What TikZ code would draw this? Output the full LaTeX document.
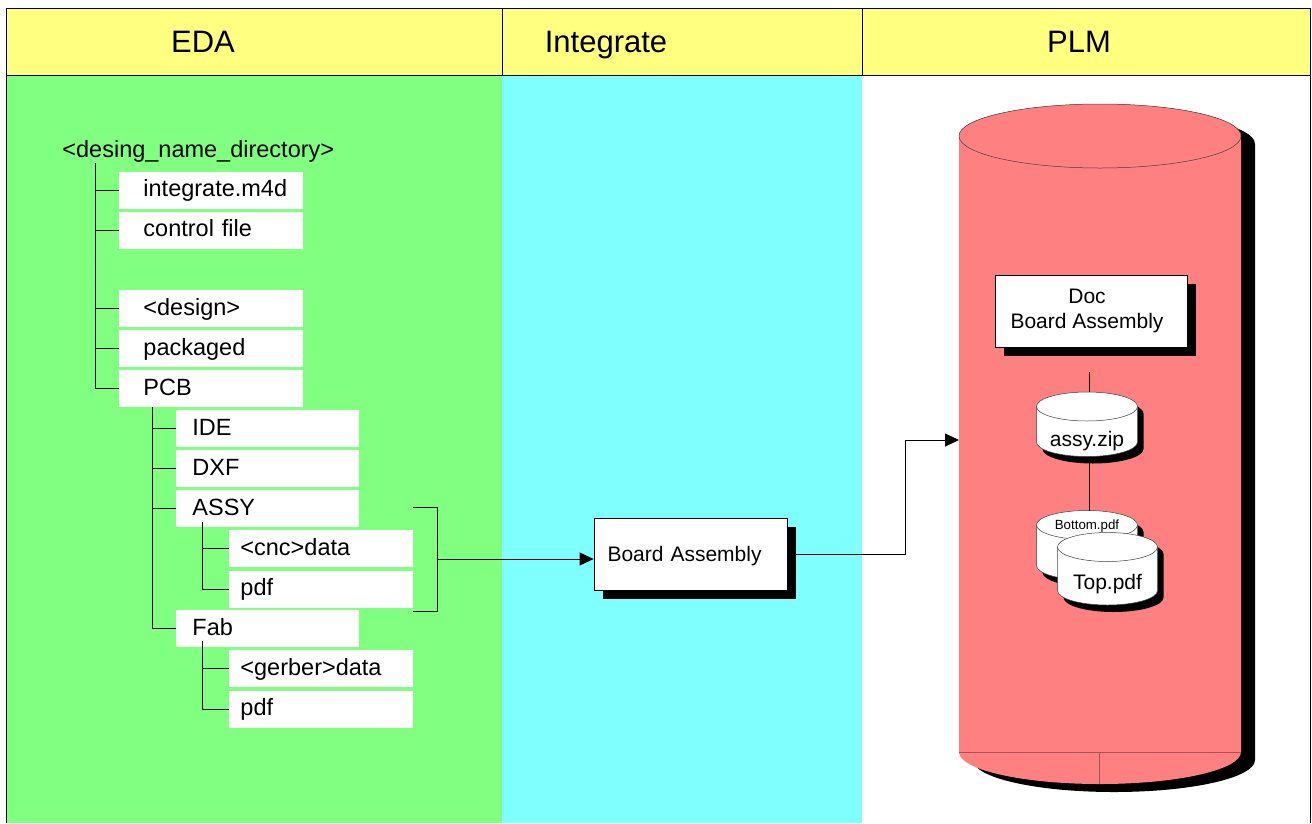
\documentclass[tikz,border=0pt]{standalone}
\usepackage{fontspec}
\setmainfont{Liberation Sans}
\usetikzlibrary{arrows.meta,calc,shadows}
\definecolor{hdr}{HTML}{FFFF80}
\definecolor{edacol}{HTML}{80FF80}
\definecolor{intcol}{HTML}{80FFFF}
\definecolor{plmred}{HTML}{FF8080}
\begin{document}
\begin{tikzpicture}[x=1pt,y=-1pt,
  line width=0.9pt,
  hdrtxt/.style={font=\fontsize{31}{37}\selectfont, anchor=base, inner sep=0},
  treefont/.style={font=\fontsize{23.5}{28}\selectfont},
  filebox/.style={treefont, fill=white, anchor=west, minimum height=37,
    text height=19, text depth=6, inner ysep=6, align=left},
  lvlone/.style={filebox, inner xsep=24, text width=136},
  lvltwo/.style={filebox, inner xsep=16, text width=151},
  lvlthree/.style={filebox, inner xsep=11, text width=162},
  shbox/.style={draw=black, line width=0.8pt, fill=white,
    drop shadow={shadow xshift=9pt, shadow yshift=-9pt, fill=black, opacity=1}},
  lbl/.style={font=\fontsize{21}{25}\selectfont},
  arr/.style={-{Triangle[length=14pt,width=13pt]}},
  cylline/.style={draw=black!75, line width=0.5pt}
]
\useasboundingbox (0,0) rectangle (1312,823);

% backgrounds
\fill[edacol] (6,75) rectangle (502,823);
\fill[intcol] (502,75) rectangle (862,823);
\fill[hdr] (6,8) rectangle (1310,75);
\draw (6,823) -- (6,8) -- (1310,8) -- (1310,823);
\draw (6,75) -- (1310,75);
\draw (502,8) -- (502,75);
\draw (862,8) -- (862,75);

\node[hdrtxt] (heda) at (203,52) {EDA};
\node[hdrtxt] (hint) at (606,52) {Integrate};
\node[hdrtxt] (hplm) at (1079,52) {PLM};

% tree
\node[treefont, anchor=base west, inner sep=0] (root) at (62,157) {<desing\_name\_directory>};

\node[lvlone] (f1) at (119,190) {integrate.m4d};
\node[lvlone] (f2) at (119,230) {control file};
\node[lvlone] (f3) at (119,308.5) {<design>};
\node[lvlone] (f4) at (119,348.5) {packaged};
\node[lvlone] (pcb) at (119,388.5) {PCB};

\node[lvltwo] (ide) at (176,428.5) {IDE};
\node[lvltwo] (dxf) at (176,468.5) {DXF};
\node[lvltwo] (assy) at (176,508.5) {ASSY};
\node[lvltwo] (fab) at (176,628.5) {Fab};

\node[lvlthree] (cnc) at (229,548.5) {<cnc>data};
\node[lvlthree] (apdf) at (229,589) {pdf};
\node[lvlthree] (gerb) at (229,668.5) {<gerber>data};
\node[lvlthree] (fpdf) at (229,709) {pdf};

\coordinate (r1) at (95,163);
\foreach \c in {f1,f2,f3,f4,pcb} \draw (r1) |- (\c.west);
\coordinate (r2) at (152,407);
\foreach \c in {ide,dxf,assy,fab} \draw (r2) |- (\c.west);
\coordinate (r3) at (202,522);
\foreach \c in {cnc,apdf} \draw (r3) |- (\c.west);
\coordinate (r4) at (202,641);
\foreach \c in {gerb,fpdf} \draw (r4) |- (\c.west);

% bracket
\coordinate (bt) at (413,507);
\coordinate (bb) at (413,611);
\coordinate (bm) at (437,559);
\draw (bt) -- (437,507) -- (437,611) -- (bb);

% integrate box
\node[shbox, lbl, minimum width=193, minimum height=72, inner xsep=13.5,
  text width=166, align=left, text height=15, text depth=0] (ba) at (690.5,554) {Board Assembly};
\draw[arr] (bm) -- (bm -| ba.west);

% PLM cylinder
\fill[black] (973,144) -- (973,760) arc[start angle=180,end angle=0,x radius=141,y radius=32]
  -- (1255,144) arc[start angle=0,end angle=-180,x radius=141,y radius=32] -- cycle;
\fill[plmred] (959,136) -- (959,752) arc[start angle=180,end angle=0,x radius=141,y radius=32]
  -- (1241,136) arc[start angle=0,end angle=-180,x radius=141,y radius=32] -- cycle;
\draw[cylline, fill=plmred] (1100,136) ellipse[x radius=141, y radius=32];
\draw[plmred!65!black, line width=0.6pt] (959,752) -- (1241,752) (1099,752) -- (1099,784);

\coordinate (plmin) at (959,440);
\draw[arr] (ba.east) -| ([xshift=-54pt]plmin) -- (plmin);

% Doc box
\node[shbox, lbl, minimum width=192, minimum height=72, align=center] (doc) at (1091,311)
  {\hspace*{-8pt}Doc\\\hspace*{-8pt}Board Assembly};

% assy.zip cylinder
\fill[black] (1042.5,413.5) -- (1042.5,449) arc[start angle=180,end angle=0,x radius=50.5,y radius=14.5]
  -- (1143.5,413.5) arc[start angle=0,end angle=-180,x radius=50.5,y radius=14.5] -- cycle;
\fill[white] (1036.5,406.5) -- (1036.5,442) arc[start angle=180,end angle=0,x radius=50.5,y radius=14.5]
  -- (1137.5,406.5) arc[start angle=0,end angle=-180,x radius=50.5,y radius=14.5] -- cycle;
\draw[cylline] (1036.5,406.5) -- (1036.5,442) arc[start angle=180,end angle=0,x radius=50.5,y radius=14.5]
  -- (1137.5,406.5);
\draw[cylline] (1087,406.5) ellipse[x radius=50.5, y radius=14.5];
\node[lbl, anchor=base] (zip) at (1087,446) {assy.zip};

% Bottom.pdf cylinder
\fill[black] (1042.5,532) -- (1042.5,572.5) arc[start angle=180,end angle=0,x radius=50.5,y radius=14.5]
  -- (1143.5,532) arc[start angle=0,end angle=-180,x radius=50.5,y radius=14.5] -- cycle;
\fill[white] (1036.5,525) -- (1036.5,565.5) arc[start angle=180,end angle=0,x radius=50.5,y radius=14.5]
  -- (1137.5,525) arc[start angle=0,end angle=-180,x radius=50.5,y radius=14.5] -- cycle;
\draw[cylline] (1036.5,525) -- (1036.5,565.5) arc[start angle=180,end angle=0,x radius=50.5,y radius=14.5]
  -- (1137.5,525);
\draw[cylline] (1087,525) ellipse[x radius=50.5, y radius=14.5];
\node[font=\fontsize{13.3}{16}\selectfont, anchor=base] (botpdf) at (1087,529.5) {Bottom.pdf};

% Top.pdf cylinder
\fill[black] (1063.5,554) -- (1063.5,597.5) arc[start angle=180,end angle=0,x radius=50,y radius=14.5]
  -- (1163.5,554) arc[start angle=0,end angle=-180,x radius=50,y radius=14.5] -- cycle;
\fill[white] (1057.5,547) -- (1057.5,590.5) arc[start angle=180,end angle=0,x radius=50,y radius=14.5]
  -- (1157.5,547) arc[start angle=0,end angle=-180,x radius=50,y radius=14.5] -- cycle;
\draw[cylline] (1057.5,547) -- (1057.5,590.5) arc[start angle=180,end angle=0,x radius=50,y radius=14.5]
  -- (1157.5,547);
\draw[cylline] (1107.5,547) ellipse[x radius=50, y radius=14.5];
\node[lbl, anchor=base] (toppdf) at (1107.5,589) {Top.pdf};

% connectors in PLM
\coordinate (dl) at (1089,372);
\coordinate (assytop) at (1089,392);
\coordinate (assybot) at (1089,456.5);
\coordinate (bottop) at (1089,510.5);
\draw[line width=0.6pt] (dl) -- (assytop);
\draw[line width=0.6pt] (assybot) -- (bottop);
\end{tikzpicture}
\end{document}
